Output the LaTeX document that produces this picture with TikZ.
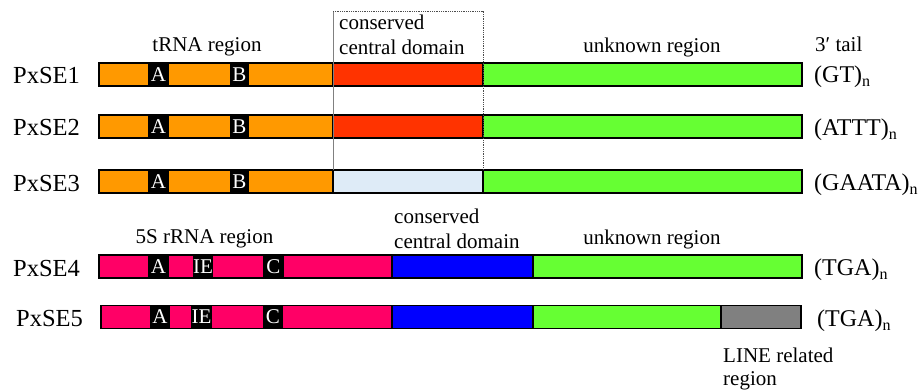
\documentclass[tikz,border=0pt]{standalone}
\usepackage{fontspec}
\setmainfont{Liberation Serif}

\definecolor{trnacol}{RGB}{255,153,0}
\definecolor{ccdred}{RGB}{255,51,0}
\definecolor{ccdpale}{RGB}{222,235,247}
\definecolor{unkgreen}{RGB}{102,255,51}
\definecolor{rrnacol}{RGB}{255,0,102}
\definecolor{ccdblue}{RGB}{0,0,255}
\definecolor{linegray}{RGB}{128,128,128}

% one coloured block of an element, from x=#2 to x=#3, centred on y=#4
\newcommand\segm[5]{\node[seg, fill=#5, minimum width={(#3)-(#2)}] (#1) at (#2,#4) {};}
% a black promoter box with white letters
\newcommand\motifbox[5]{\node[motifbox, minimum width={(#3)-(#2)}] (#1) at (#2,#4) {#5};}
% repeat unit with subscript n
\newcommand\rep[1]{#1\raisebox{-4pt}{\fontsize{16}{16}\selectfont n}}

\begin{document}
\begin{tikzpicture}[x=1pt, y=-1pt,
  seg/.style={draw=black, line width=1.5pt, minimum height=23pt, inner sep=0pt, outer sep=0pt, anchor=west},
  motifbox/.style={fill=black, text=white, minimum height=22pt, inner sep=0pt, outer sep=0pt, anchor=west,
                   font=\fontsize{21}{21}\selectfont},
  elname/.style={anchor=base west, inner sep=0pt, font=\fontsize{24.5}{24.5}\selectfont},
  regionlabel/.style={inner sep=0pt, font=\fontsize{21}{21}\selectfont},
  tail/.style={anchor=base west, inner sep=0pt, font=\fontsize{24}{24}\selectfont}]

\useasboundingbox (0,0) rectangle (922,391);

% ---- SINE elements with a tRNA-derived head ----
\segm{t1}{99}{333}{74.5}{trnacol}
\segm{c1}{333}{483}{74.5}{ccdred}
\segm{u1}{483}{802}{74.5}{unkgreen}
\motifbox{a1}{148}{169}{74.5}{A}
\motifbox{b1}{230}{249}{74.5}{B}

\segm{t2}{99}{333}{126.5}{trnacol}
\segm{c2}{333}{483}{126.5}{ccdred}
\segm{u2}{483}{802}{126.5}{unkgreen}
\motifbox{a2}{148}{169}{126.5}{A}
\motifbox{b2}{230}{249}{126.5}{B}

\segm{t3}{99}{333}{181.5}{trnacol}
\segm{c3}{333}{483}{181.5}{ccdpale}
\segm{u3}{483}{802}{181.5}{unkgreen}
\motifbox{a3}{148}{169}{181.5}{A}
\motifbox{b3}{230}{249}{181.5}{B}

% frame round the conserved central domain
\coordinate (boxtl) at (c3.north west |- 0,11);
\coordinate (boxtr) at (c3.north east |- 0,11);
\draw[linegray, line width=0.8pt] (c3.north west) -- (boxtl);
\draw[black!70, line width=0.8pt, densely dotted] (boxtl) -- (boxtr) -- (c3.north east);

% ---- SINE elements with a 5S rRNA-derived head ----
\segm{p4}{99}{392}{266.5}{rrnacol}
\segm{d4}{392}{533}{266.5}{ccdblue}
\segm{u4}{533}{802}{266.5}{unkgreen}
\motifbox{a4}{148}{169}{266.5}{A}
\motifbox{ie4}{193}{213}{266.5}{IE}
\motifbox{cc4}{263}{284}{266.5}{C}

\segm{p5}{101}{392}{317}{rrnacol}
\segm{d5}{392}{533}{317}{ccdblue}
\segm{u5}{533}{721}{317}{unkgreen}
\segm{l5}{721}{801}{317}{linegray}
\motifbox{a5}{150}{170}{317}{A}
\motifbox{ie5}{191}{212}{317}{IE}
\motifbox{cc5}{263}{283}{317}{C}

% element names
\node[elname] (n1) at (13,83) {PxSE1};
\node[elname] (n2) at (13,135) {PxSE2};
\node[elname] (n3) at (13,191) {PxSE3};
\node[elname] (n4) at (13,276) {PxSE4};
\node[elname] (n5) at (16,326) {PxSE5};

% region labels
\node[regionlabel, anchor=base] (lt) at (207,51) {tRNA region};
\node[regionlabel, anchor=base west] (lc1a) at (339,29) {conserved};
\node[regionlabel, anchor=base west] (lc1b) at (339,54) {central domain};
\node[regionlabel, anchor=base] (lu1) at (652,52) {unknown region};
\node[regionlabel, anchor=base west] (ltail) at (815,51) {3′ tail};

\node[regionlabel, anchor=base] (lr) at (204.5,243) {5S rRNA region};
\node[regionlabel, anchor=base west] (lc4a) at (394,223) {conserved};
\node[regionlabel, anchor=base west] (lc4b) at (394,248) {central domain};
\node[regionlabel, anchor=base] (lu4) at (652,244) {unknown region};
\node[regionlabel, anchor=base west] (ll1) at (723,362) {LINE related};
\node[regionlabel, anchor=base west] (ll2) at (723,385) {region};

% 3' tails
\node[tail] (r1) at (814,82.5) {\rep{(GT)}};
\node[tail] (r2) at (814,135) {\rep{(ATTT)}};
\node[tail] (r3) at (814,190) {\rep{(GAATA)}};
\node[tail] (r4) at (814,275) {\rep{(TGA)}};
\node[tail] (r5) at (817,326) {\rep{(TGA)}};
\end{tikzpicture}
\end{document}
